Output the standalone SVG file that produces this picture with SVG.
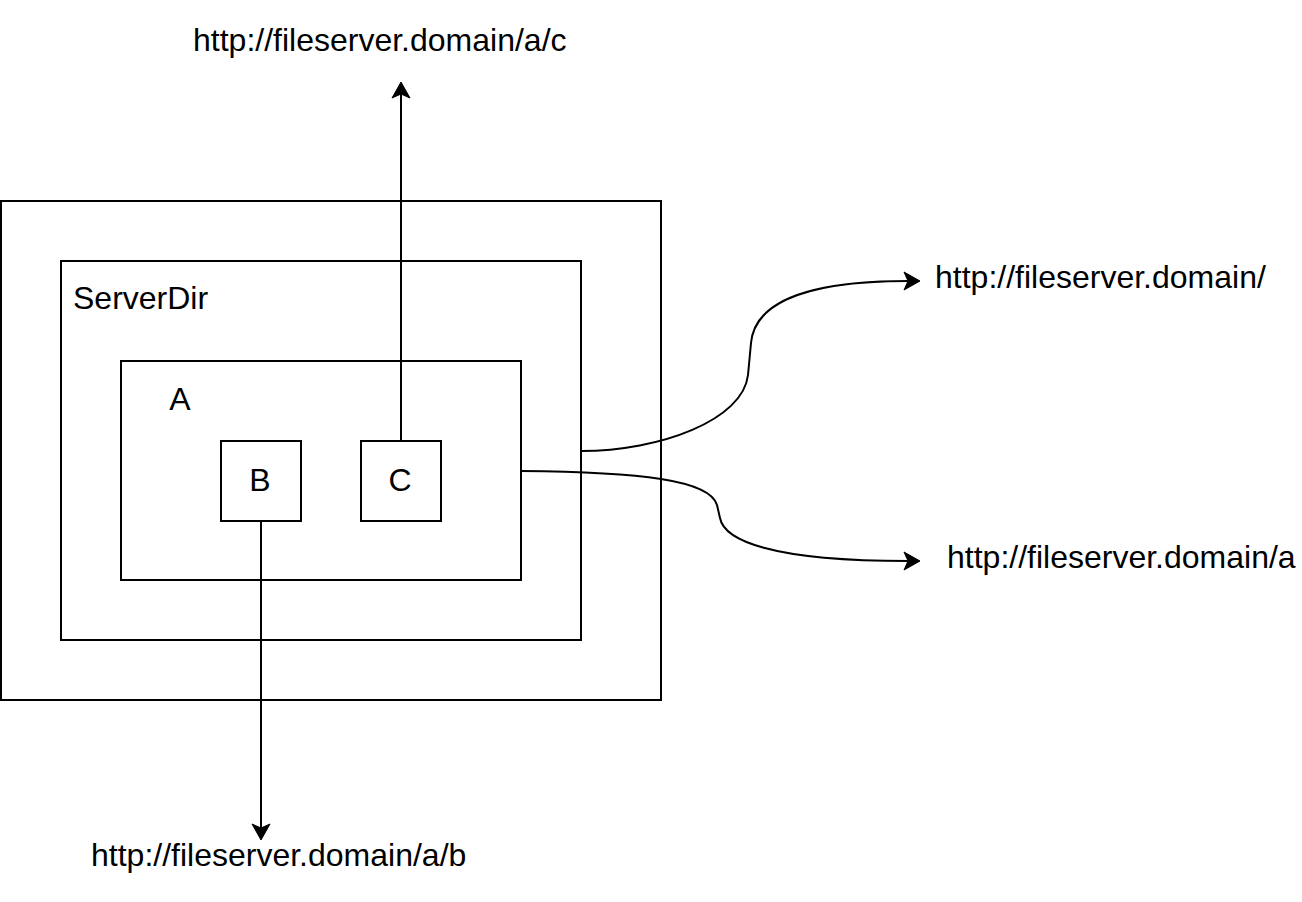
<svg xmlns="http://www.w3.org/2000/svg" width="1302" height="902" viewBox="0 0 1302 902">
<style>
.box{fill:#ffffff;stroke:#000000;stroke-width:2}
.edge{fill:none;stroke:#000000;stroke-width:2}
text{font-family:"Liberation Sans",Arial,Helvetica,sans-serif;font-size:32px;fill:#000000}
.c{text-anchor:middle}
</style>
<defs>
<marker id="arr" markerUnits="userSpaceOnUse" markerWidth="40" markerHeight="40" viewBox="-10 -20 40 40" refX="0" refY="0" orient="auto" overflow="visible">
<path d="M12,0 L-4,-9 L0,0 L-4,9 Z" fill="#000000" stroke="#000000" stroke-width="1"/>
</marker>
</defs>
<rect width="1302" height="902" fill="#ffffff"/>
<g id="outer"><rect class="box" x="1" y="201" width="660" height="499"/></g>
<g id="serverdir"><rect class="box" x="61" y="261" width="520" height="379"/><text x="73" y="309">ServerDir</text></g>
<g id="a"><rect class="box" x="121" y="361" width="400" height="219"/><text class="c" x="180" y="410">A</text></g>
<g id="b"><rect class="box" x="221" y="441" width="80" height="80"/><text class="c" x="260" y="491">B</text></g>
<g id="c"><rect class="box" x="361" y="441" width="80" height="80"/><text class="c" x="400" y="491">C</text></g>
<g id="url-ac"><text x="193" y="51">http://fileserver.domain/a/c</text></g>
<g id="url-root"><text x="935" y="288">http://fileserver.domain/</text></g>
<g id="url-a"><text x="947" y="568">http://fileserver.domain/a</text></g>
<g id="url-ab"><text x="91" y="866">http://fileserver.domain/a/b</text></g>
<g id="connectors">
<path class="edge" d="M401,441 L401,94" marker-end="url(#arr)"/>
<path class="edge" d="M261,521 L261,828" marker-end="url(#arr)"/>
<path class="edge" d="M581,451 C660,451 743,420 748,375 L751,343 C754,310 790,281 908,281" marker-end="url(#arr)"/>
<path class="edge" d="M521,471 C640,472 710,480 717,505 L720,518 C724,540 770,561 908,561" marker-end="url(#arr)"/>
</g>
</svg>
